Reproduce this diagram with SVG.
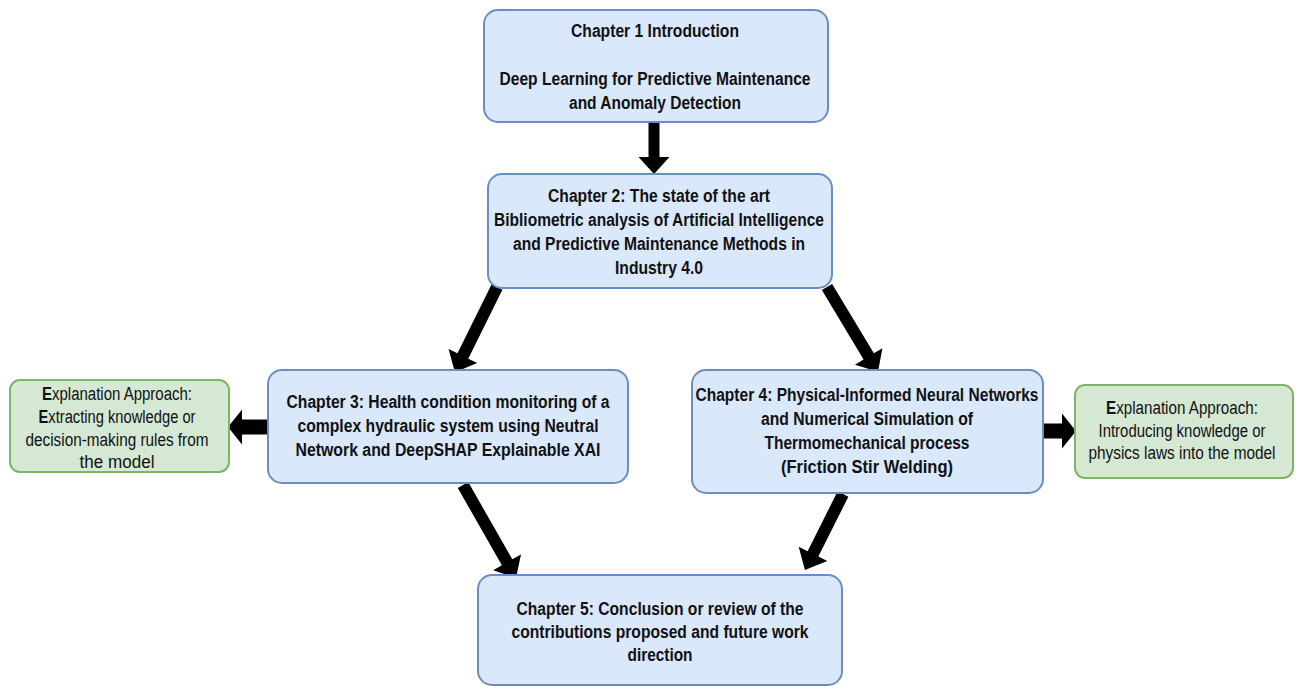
<svg xmlns="http://www.w3.org/2000/svg" width="1305" height="686" viewBox="0 0 1305 686">
  <style>
    .blue { fill: #dae8fc; stroke: #6c8ebf; stroke-width: 2; }
    .green { fill: #d5e8d4; stroke: #82b366; stroke-width: 2; }
    .t { font-family: "Liberation Sans Narrow", "Arial Narrow", "Liberation Sans", sans-serif; font-size: 18px; fill: #111; text-anchor: middle; }
    .b { font-weight: bold; }
    .arrow { fill: #000; }
  </style>
  <rect width="1305" height="686" fill="#fff"/>

  <!-- connectors: thick block arrows, drawn along +x then rotated -->
  <g id="connectors" class="arrow">
    <path transform="translate(654,122) rotate(90)" d="M0,-5.5 H35 V-15.5 L52,0 L35,15.5 V5.5 H0 Z"/>
    <path transform="translate(497,287) rotate(116.3)" d="M0,-6 H77 V-16 L95,0 L77,16 V6 H0 Z"/>
    <path transform="translate(827,287) rotate(59)" d="M0,-6 H81 V-16 L99,0 L81,16 V6 H0 Z"/>
    <path transform="translate(463,485) rotate(60.3)" d="M0,-6 H89 V-16 L107,0 L89,16 V6 H0 Z"/>
    <path transform="translate(843,494) rotate(116.6)" d="M0,-6 H67 V-16 L85,0 L67,16 V6 H0 Z"/>
    <path transform="translate(268,427) rotate(180)" d="M0,-7.5 H26 V-17.5 L40,0 L26,17.5 V7.5 H0 Z"/>
    <path transform="translate(1043,431)" d="M0,-7.5 H19 V-17.5 L33,0 L19,17.5 V7.5 H0 Z"/>
  </g>

  <g id="ch1">
    <rect class="blue" x="484" y="10" width="344" height="112" rx="14"/>
    <text class="t b" x="655" y="37" textLength="168" lengthAdjust="spacingAndGlyphs">Chapter 1 Introduction</text>
    <text class="t b" x="655" y="85" textLength="311" lengthAdjust="spacingAndGlyphs">Deep Learning for Predictive Maintenance</text>
    <text class="t b" x="655" y="109" textLength="172" lengthAdjust="spacingAndGlyphs">and Anomaly Detection</text>
  </g>

  <g id="ch2">
    <rect class="blue" x="488" y="174" width="344" height="114" rx="14"/>
    <text class="t b" x="659" y="202" textLength="222" lengthAdjust="spacingAndGlyphs">Chapter 2: The state of the art</text>
    <text class="t b" x="659" y="226" textLength="330" lengthAdjust="spacingAndGlyphs">Bibliometric analysis of Artificial Intelligence</text>
    <text class="t b" x="659" y="250" textLength="292" lengthAdjust="spacingAndGlyphs">and Predictive Maintenance Methods in</text>
    <text class="t b" x="659" y="274" textLength="88" lengthAdjust="spacingAndGlyphs">Industry 4.0</text>
  </g>

  <g id="ch3">
    <rect class="blue" x="268" y="370" width="360" height="113" rx="14"/>
    <text class="t b" x="448" y="408" textLength="323" lengthAdjust="spacingAndGlyphs">Chapter 3: Health condition monitoring of a</text>
    <text class="t b" x="448" y="432" textLength="301" lengthAdjust="spacingAndGlyphs">complex hydraulic system using Neutral</text>
    <text class="t b" x="448" y="456" textLength="305" lengthAdjust="spacingAndGlyphs">Network and DeepSHAP Explainable XAI</text>
  </g>

  <g id="ch4">
    <rect class="blue" x="692" y="370" width="351" height="123" rx="14"/>
    <text class="t b" x="867" y="401" textLength="343" lengthAdjust="spacingAndGlyphs">Chapter 4: Physical-Informed Neural Networks</text>
    <text class="t b" x="867" y="425" textLength="212" lengthAdjust="spacingAndGlyphs">and Numerical Simulation of</text>
    <text class="t b" x="867" y="449" textLength="205" lengthAdjust="spacingAndGlyphs">Thermomechanical process</text>
    <text class="t b" x="867" y="473" textLength="172" lengthAdjust="spacingAndGlyphs">(Friction Stir  Welding)</text>
  </g>

  <g id="ch5">
    <rect class="blue" x="478" y="575" width="364" height="110" rx="14"/>
    <text class="t b" x="660" y="615" textLength="287" lengthAdjust="spacingAndGlyphs">Chapter 5: Conclusion or review of the</text>
    <text class="t b" x="660" y="638" textLength="297" lengthAdjust="spacingAndGlyphs">contributions proposed and future work</text>
    <text class="t b" x="660" y="661" textLength="65" lengthAdjust="spacingAndGlyphs">direction</text>
  </g>

  <g id="xai-left">
    <rect class="green" x="10" y="380" width="219" height="92" rx="10"/>
    <text class="t" x="117" y="400" textLength="150" lengthAdjust="spacingAndGlyphs"><tspan class="b">E</tspan>xplanation Approach:</text>
    <text class="t" x="117" y="423" textLength="157" lengthAdjust="spacingAndGlyphs"><tspan class="b">E</tspan>xtracting knowledge or</text>
    <text class="t" x="117" y="446" textLength="183" lengthAdjust="spacingAndGlyphs">decision-making rules from</text>
    <text class="t" x="117" y="468" textLength="75" lengthAdjust="spacingAndGlyphs">the model</text>
  </g>

  <g id="xai-right">
    <rect class="green" x="1075" y="385" width="218" height="93" rx="10"/>
    <text class="t" x="1182" y="414" textLength="152" lengthAdjust="spacingAndGlyphs"><tspan class="b">E</tspan>xplanation Approach:</text>
    <text class="t" x="1182" y="437" textLength="167" lengthAdjust="spacingAndGlyphs">Introducing knowledge or</text>
    <text class="t" x="1182" y="459" textLength="187" lengthAdjust="spacingAndGlyphs">physics laws into the model</text>
  </g>
</svg>
